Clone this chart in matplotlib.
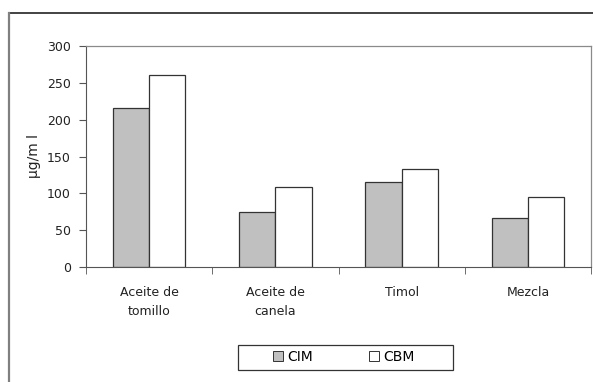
import matplotlib
matplotlib.use("Agg")
import matplotlib.pyplot as plt
from matplotlib.lines import Line2D
from matplotlib.patches import Rectangle
import numpy as np

categories = ["Aceite de\ntomillo", "Aceite de\ncanela", "Timol", "Mezcla"]
cim = [216, 75, 116, 67]
cbm = [260, 109, 133, 95]
series_names = ["CIM", "CBM"]
yticks = [0, 50, 100, 150, 200, 250, 300]

plt.rcParams['font.family'] = ['DejaVu Sans']
plt.rcParams['font.size'] = 9

W, H = 593, 382
fig = plt.figure(figsize=(W / 100, H / 100), dpi=100)
ax = fig.add_axes([86 / W, 1 - 267 / H, (591 - 86) / W, (267 - 46) / H])

x = np.arange(len(categories))
bw = 0.287
ax.bar(x - bw / 2, cim, bw, color="#C0C0C0", edgecolor="#333333", linewidth=0.9, label=series_names[0])
ax.bar(x + bw / 2, cbm, bw, color="white", edgecolor="#333333", linewidth=0.9, label=series_names[1])

ax.set_xlim(-0.5, len(categories) - 0.5)
ax.set_ylim(0, 300)
ax.set_yticks(yticks)
ax.set_xticks(x)
ax.set_xticklabels(categories, linespacing=1.55)
ax.set_xticks(np.arange(-0.5, len(categories)), minor=True)
ax.tick_params(axis='x', which='major', length=0, pad=14, colors="#222222")
ax.tick_params(axis='x', which='minor', length=5, color="#555555", direction='out')
ax.tick_params(axis='y', length=5, pad=6, color="#555555", labelcolor="#222222")
ax.set_ylabel("µg/m l", labelpad=4, color="#222222", fontsize=10)

for side in ['top', 'right']:
    ax.spines[side].set_color("#8a8a8a")
    ax.spines[side].set_linewidth(0.9)
ax.spines['left'].set_color("#555555")
ax.spines['bottom'].set_color("#555555")

leg = fig.legend(loc='center', bbox_to_anchor=(344 / W, 1 - 357 / H), ncol=2,
                 frameon=False, handlelength=0.72, handleheight=0.72, handletextpad=0.3,
                 columnspacing=4.0, borderpad=0.3, fontsize=10)
for h in leg.legend_handles:
    h.set_linewidth(0.7)
# legend box (wider than the entries, as in the reference)
fig.add_artist(Rectangle((238 / W, 1 - 370 / H), (453 - 238) / W, (370 - 344.5) / H,
                         transform=fig.transFigure, fill=False, edgecolor="#333333", linewidth=0.9))

# outer chart frame (clipped at right/bottom)
fig.add_artist(Line2D([9 / W, 1], [1 - 13 / H, 1 - 13 / H], transform=fig.transFigure, color="#222222", linewidth=1.2))
fig.add_artist(Line2D([9 / W, 9 / W], [0, 1 - 13 / H], transform=fig.transFigure, color="#808080", linewidth=1.6))

fig.savefig("out.png", dpi=100)
